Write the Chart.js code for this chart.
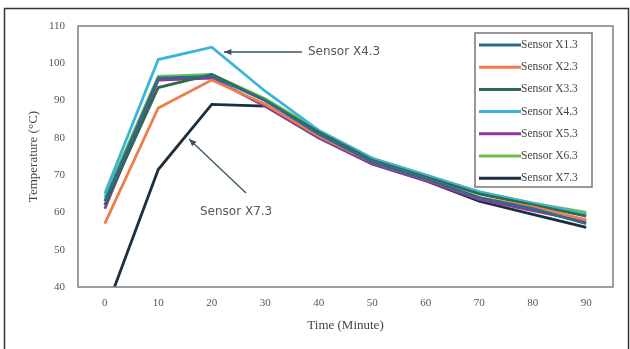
<!DOCTYPE html>
<html>
<head>
<meta charset="utf-8">
<script src="https://cdn.jsdelivr.net/npm/chart.js@4.4.1/dist/chart.umd.min.js"></script>
<style>
  html, body { margin: 0; padding: 0; background: #fff; }
  #wrap { width: 630px; height: 349px; position: relative; }
</style>
</head>
<body>
<div id="wrap"><canvas id="chart" width="630" height="349"></canvas></div>
<script>
const times = ['0', '10', '20', '30', '40', '50', '60', '70', '80', '90'];
const yTicks = [40, 50, 60, 70, 80, 90, 100, 110];

const sensorNames = ['Sensor X1.3', 'Sensor X2.3', 'Sensor X3.3', 'Sensor X4.3', 'Sensor X5.3', 'Sensor X6.3', 'Sensor X7.3'];
const x13 = [63, 96, 96.5, 90, 81, 73.5, 69, 64, 61, 57];
const x23 = [57, 88, 95.5, 89, 80.5, 73.5, 69, 64, 61.5, 58];
const x33 = [62, 93.5, 97, 90, 81.5, 74, 69.5, 65, 62, 59];
const x43 = [65, 101, 104.3, 92.5, 82, 74.5, 70, 65.5, 62.5, 59.5];
const x53 = [61, 95.5, 96, 88.5, 80, 73, 68.5, 63.5, 60.5, 57.5];
const x63 = [64, 96.5, 97, 90.5, 82, 74.5, 70, 65.5, 62.5, 60];
const x73 = [33, 71.5, 89, 88.5, 80, 73, 68.5, 63, 59.5, 56];

const colors = ['#2d6a8e', '#ee7d4a', '#2f6a4a', '#3cb3d9', '#8e3a9c', '#6dbf4b', '#1c2f3e'];
const series = [x13, x23, x33, x43, x53, x63, x73];

// frame, legend box and arrow notes
const extras = {
  id: 'extras',
  beforeDraw(chart) {
    const c = chart.ctx;
    c.save();
    c.fillStyle = '#fff';
    c.fillRect(0, 0, chart.width, chart.height);
    c.restore();
  },
  afterDraw(chart) {
    const c = chart.ctx;
    const a = chart.chartArea;
    c.save();
    // outer frame
    c.strokeStyle = '#333';
    c.lineWidth = 1.5;
    c.strokeRect(4.5, 8.5, 624, 360);
    // plot frame
    c.strokeStyle = '#7f7f7f';
    c.lineWidth = 1.5;
    c.strokeRect(a.left, a.top, a.right - a.left, a.bottom - a.top);

    // legend
    const lx = 475, ly = 33, lw = 117, lh = 154;
    c.fillStyle = '#fff';
    c.fillRect(lx, ly, lw, lh);
    c.strokeStyle = '#777';
    c.lineWidth = 1.5;
    c.strokeRect(lx, ly, lw, lh);
    c.font = '11.5px "Liberation Serif", serif';
    c.textBaseline = 'middle';
    chart.data.datasets.forEach((ds, i) => {
      const y = ly + 12 + i * 22.2;
      c.strokeStyle = ds.borderColor;
      c.lineWidth = 3;
      c.beginPath();
      c.moveTo(lx + 4, y);
      c.lineTo(lx + 46, y);
      c.stroke();
      c.fillStyle = '#444';
      c.fillText(ds.label, lx + 46, y);
    });

    // notes
    c.font = '12px "DejaVu Sans", sans-serif';
    c.fillStyle = '#555';
    c.fillText('Sensor X4.3', 308, 52);
    c.fillText('Sensor X7.3', 200, 212);
    const arrow = (x1, y1, x2, y2) => {
      c.strokeStyle = '#3a5566';
      c.fillStyle = '#3a5566';
      c.lineWidth = 1.3;
      c.beginPath();
      c.moveTo(x1, y1);
      c.lineTo(x2, y2);
      c.stroke();
      const ang = Math.atan2(y2 - y1, x2 - x1);
      c.beginPath();
      c.moveTo(x2, y2);
      c.lineTo(x2 - 8 * Math.cos(ang - 0.4), y2 - 8 * Math.sin(ang - 0.4));
      c.lineTo(x2 - 8 * Math.cos(ang + 0.4), y2 - 8 * Math.sin(ang + 0.4));
      c.closePath();
      c.fill();
    };
    arrow(302, 52, 224, 52);
    arrow(246, 193, 189, 139);
    c.restore();
  }
};

new Chart(document.getElementById('chart'), {
  type: 'line',
  data: {
    labels: times,
    datasets: series.map((d, i) => ({
      label: sensorNames[i],
      data: d,
      borderColor: colors[i],
      backgroundColor: colors[i],
      borderWidth: 2.8,
      pointRadius: 0,
      tension: 0
    }))
  },
  options: {
    responsive: false,
    animation: false,
    layout: { padding: { left: 4, top: 26, right: 17, bottom: 0 } },
    plugins: {
      legend: { display: false },
      tooltip: { enabled: false }
    },
    scales: {
      x: {
        offset: true,
        grid: { display: false, drawTicks: false },
        border: { display: false },
        ticks: { color: '#555', font: { family: '"Liberation Serif", serif', size: 11 }, padding: 10, maxRotation: 0 },
        title: { display: true, text: 'Time (Minute)', color: '#444', font: { family: '"Liberation Serif", serif', size: 13 }, padding: { top: 0, bottom: 16 } },
        afterFit(s) { s.height = 62; }
      },
      y: {
        min: 40,
        max: 110,
        afterBuildTicks(s) { s.ticks = yTicks.map(v => ({ value: v })); },
        grid: { display: false, drawTicks: false },
        border: { display: false },
        ticks: { color: '#555', font: { family: '"Liberation Serif", serif', size: 11 }, padding: 13 },
        title: { display: true, text: 'Temperature (°C)', color: '#444', font: { family: '"Liberation Serif", serif', size: 13 }, padding: { top: 22, bottom: 0 } },
        afterFit(s) { s.width = 74; }
      }
    }
  },
  plugins: [extras]
});
</script>
</body>
</html>
